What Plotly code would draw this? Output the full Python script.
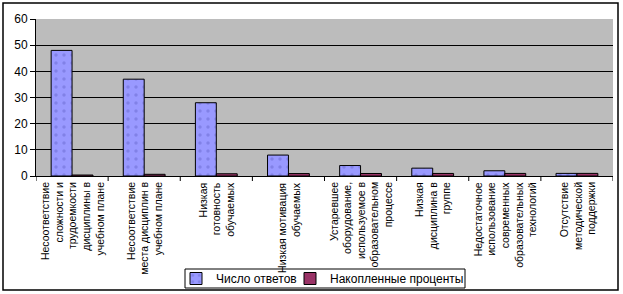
import plotly.graph_objects as go

categories = [
    "Несоответствие<br>сложности и<br>трудоемкости<br>дисциплины в<br>учебном плане",
    "Несоответствие<br>места дисциплин в<br>учебном плане",
    "Низкая<br>готовность<br>обучаемых",
    "Низкая мотивация<br>обучаемых",
    "Устаревшее<br>оборудование,<br>используемое в<br>образовательном<br>процессе",
    "Низкая<br>дисциплина в<br>группе",
    "Недостаточное<br>использование<br>современных<br>образовательных<br>технологий",
    "Отсутствие<br>методической<br>поддержки",
]
answers = [48, 37, 28, 8, 4, 3, 2, 1]
cumulative = [0.37, 0.65, 0.86, 0.93, 0.96, 0.98, 0.99, 1.0]
y_ticks = [0, 10, 20, 30, 40, 50, 60]

W, H = 623, 294
L, R, T, B = 36, 613, 19, 176
pw, ph = R - L, B - T
xpos = list(range(len(categories)))


def px_x(v):
    return (v - L) / pw


def px_y(v):
    return (B - v) / ph


fig = go.Figure()
fig.add_trace(go.Bar(
    x=xpos, y=answers, name="Число ответов", legend="legend",
    marker=dict(color="#9999ff", line=dict(color="black", width=1),
                pattern=dict(shape=".", fgcolor="#6a6ad0", bgcolor="#9999ff", size=8, solidity=0.15)),
))
fig.add_trace(go.Bar(
    x=xpos, y=cumulative, name="Накопленные проценты", legend="legend2",
    marker=dict(color="#993366", line=dict(color="black", width=1)),
))

leg_common = dict(orientation="h", xanchor="left", y=px_y(278.5), yanchor="middle",
                  borderwidth=0, bgcolor="rgba(0,0,0,0)", font=dict(size=12), itemwidth=30)

fig.update_layout(
    width=W, height=H,
    margin=dict(l=L, r=W - R, t=T, b=H - B, autoexpand=False),
    paper_bgcolor="white",
    plot_bgcolor="#bcbcbc",
    barmode="group", bargap=0.42, bargroupgap=0,
    font=dict(family="Arial, Liberation Sans", color="black"),
    showlegend=True,
    legend=dict(x=px_x(176), **leg_common),
    legend2=dict(x=px_x(290), **leg_common),
    xaxis=dict(
        range=[-0.5, len(categories) - 0.5],
        tickmode="array", tickvals=xpos, ticktext=[""] * len(categories),
        ticks="", showgrid=False,
        showline=True, linecolor="black", linewidth=1, zeroline=False,
    ),
    yaxis=dict(
        range=[0, 60], tickvals=y_ticks, tickfont=dict(size=12),
        ticks="outside", ticklen=5, tickcolor="black",
        showgrid=True, gridcolor="black", gridwidth=1,
        showline=True, linecolor="black", linewidth=1, zeroline=False,
    ),
)

# category labels, rotated, lines aligned toward the axis
for i, lab in enumerate(categories):
    fig.add_annotation(x=i, xref="x", y=-5 / ph, yref="paper", text=lab,
                       textangle=-90, align="right", xanchor="center", yanchor="top",
                       showarrow=False, font=dict(size=10.5), borderpad=0)

# category boundary tick marks on x axis
for i in range(len(categories) + 1):
    fig.add_shape(type="line", xref="x", yref="paper",
                  x0=i - 0.5, x1=i - 0.5, y0=0, y1=-5 / ph,
                  line=dict(color="black", width=1))

# legend frame
fig.add_shape(type="rect", xref="paper", yref="paper",
              x0=px_x(185), x1=px_x(465), y0=px_y(288), y1=px_y(269),
              line=dict(color="black", width=1), fillcolor="white", layer="below")

# outer chart border
fig.add_shape(type="rect", xref="paper", yref="paper",
              x0=px_x(3), x1=px_x(618), y0=px_y(290), y1=px_y(3),
              line=dict(color="black", width=1.5), fillcolor="rgba(0,0,0,0)", layer="above")

fig.write_html("out.html")
